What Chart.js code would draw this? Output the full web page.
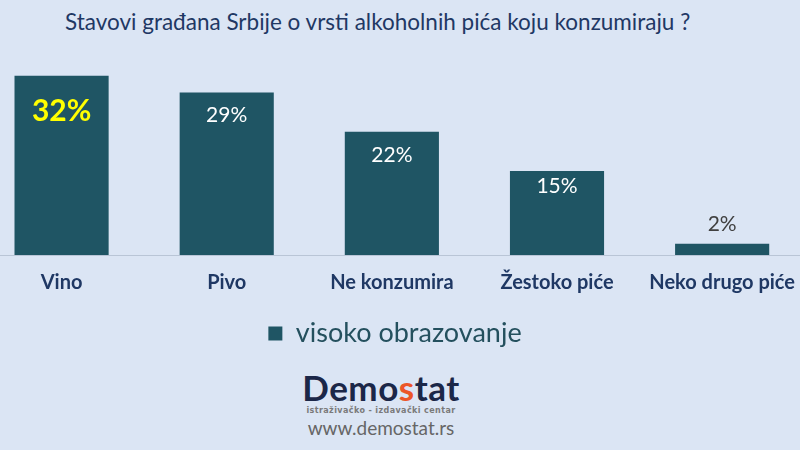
<!DOCTYPE html>
<html>
<head>
<meta charset="utf-8">
<script src="https://cdn.jsdelivr.net/npm/chart.js@4/dist/chart.umd.min.js"></script>
<style>
  html, body { margin: 0; padding: 0; }
  body { width: 800px; height: 450px; background: #dbe5f4; position: relative; overflow: hidden; font-family: Lato, "Noto Sans", sans-serif; }
  #title { position: absolute; left: 65px; top: 8px; font: 400 22.5px Lato, sans-serif; color: #1f3864; white-space: nowrap; line-height: 28px; }
  #wrap { position: absolute; left: -21px; top: 0; width: 832px; height: 357px; }
  #logo { position: absolute; left: 0; width: 762px; top: 368px; text-align: center; }
  #logo .name { font: 700 35px Lato, sans-serif; color: #1b2748; letter-spacing: 0.5px; line-height: 38px; }
  #logo .name span { color: #ec5628; }
  #logo .sub { font: 700 8px "DejaVu Sans", sans-serif; color: #7a7a7a; letter-spacing: 0.4px; line-height: 10px; }
  #logo .url { font: 400 19px Lato, sans-serif; color: #666; line-height: 22px; margin-top: 1px; }
</style>
</head>
<body>
<div id="title">Stavovi građana Srbije o vrsti alkoholnih pića koju konzumiraju ?</div>
<div id="wrap"><canvas id="chart"></canvas></div>
<div id="logo">
  <div class="name">Demo<span>s</span>tat</div>
  <div class="sub">istraživačko - izdavački centar</div>
  <div class="url">www.demostat.rs</div>
</div>
<script>
// podaci
const categories = ["Vino", "Pivo", "Ne konzumira", "Žestoko piće", "Neko drugo piće"];
const values = [32, 29, 22, 15, 2];
const seriesName = "visoko obrazovanje";

const barColor = "#1f5564";
const topIdx = values.indexOf(Math.max(...values));

// procenti na stubovima
const valueLabels = {
  id: "valueLabels",
  afterDatasetsDraw(chart) {
    const ctx = chart.ctx;
    const meta = chart.getDatasetMeta(0);
    ctx.save();
    ctx.textAlign = "center";
    ctx.textBaseline = "middle";
    meta.data.forEach((bar, i) => {
      const h = bar.base - bar.y;
      let y, color, font;
      if (i === topIdx) {
        y = bar.y + 36; color = "#ffff00"; font = "700 30px Lato, sans-serif";
      } else if (h > 100) {
        y = bar.y + 23; color = "#ffffff"; font = "400 21px Lato, sans-serif";
      } else if (h > 40) {
        y = bar.y + 15; color = "#ffffff"; font = "400 21px Lato, sans-serif";
      } else {
        y = bar.y - 20; color = "#404040"; font = "400 21px Lato, sans-serif";
      }
      ctx.font = font;
      ctx.fillStyle = color;
      ctx.fillText(values[i] + "%", bar.x, y);
    });
    ctx.restore();
  }
};

new Chart(document.getElementById("chart"), {
  type: "bar",
  data: {
    labels: categories,
    datasets: [{
      label: seriesName,
      data: values,
      backgroundColor: barColor,
      barPercentage: 0.57,
      categoryPercentage: 1
    }]
  },
  options: {
    responsive: true,
    maintainAspectRatio: false,
    animation: false,
    layout: { padding: { top: 59 } },
    plugins: {
      legend: {
        position: "bottom",
        labels: {
          color: "#24505e",
          font: { family: "Lato", size: 27 },
          boxWidth: 14,
          boxHeight: 14,
          padding: 9
        }
      },
      tooltip: { enabled: false }
    },
    scales: {
      x: {
        grid: { display: false, drawTicks: false },
        border: { display: true, color: "#b9c5d6", width: 1 },
        ticks: {
          color: "#1f3864",
          font: { family: "Lato", size: 20, weight: "700" },
          padding: 16
        }
      },
      y: {
        display: false,
        min: 0,
        max: 35
      }
    }
  },
  plugins: [valueLabels]
});
</script>
</body>
</html>
